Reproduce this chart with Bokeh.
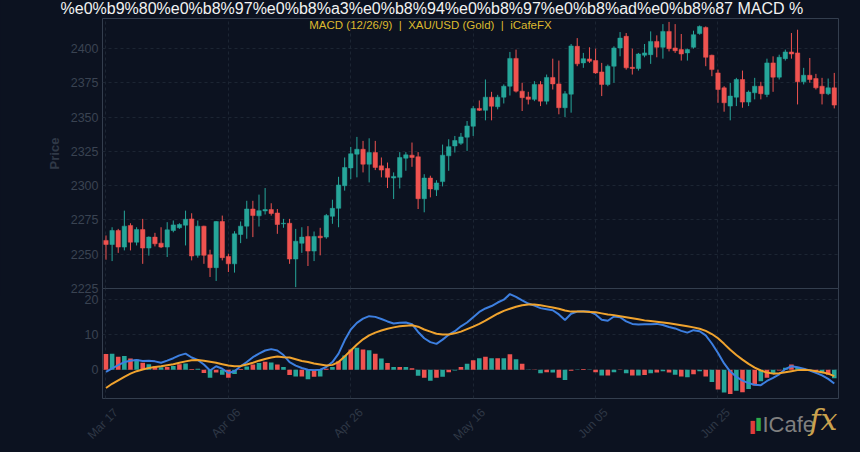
import math
import pandas as pd
from bokeh.plotting import figure
from bokeh.layouts import column
from bokeh.models import (ColumnDataSource, Label, FixedTicker, Range1d, DatetimeAxis)
from bokeh.embed import file_html
from bokeh.resources import INLINE

# ---------------- data ----------------
start_date = "2024-03-17"

open_ = [
    2260.1, 2257.1, 2267.3, 2255.2, 2271.0, 2258.8, 2268.0, 2254.5, 2262.5, 2258.1,
    2255.2, 2267.3, 2269.3, 2271.2, 2275.8, 2249.2, 2270.5, 2249.6, 2240.2, 2273.9,
    2248.4, 2243.0, 2264.4, 2270.5, 2283.0, 2278.0, 2281.6, 2282.6, 2280.1, 2272.2,
    2272.6, 2246.5, 2258.0, 2263.0, 2252.3, 2263.2, 2262.5, 2277.7, 2283.5, 2300.0,
    2313.0, 2323.0, 2326.6, 2315.7, 2324.2, 2314.5, 2312.6, 2305.6, 2306.1, 2320.1,
    2322.3, 2321.1, 2290.5, 2305.6, 2297.0, 2303.0, 2321.8, 2329.0, 2331.0, 2335.4,
    2343.4, 2356.4, 2355.0, 2364.6, 2357.6, 2364.6, 2372.6, 2392.9, 2369.0, 2364.8,
    2363.0, 2373.9, 2361.7, 2379.0, 2374.3, 2356.9, 2366.8, 2401.7, 2389.6, 2392.5,
    2391.3, 2383.0, 2373.9, 2387.2, 2400.5, 2409.0, 2386.4, 2385.5, 2395.2, 2395.6,
    2405.3, 2401.0, 2412.6, 2400.5, 2399.3, 2396.9, 2401.0, 2411.0, 2415.5, 2395.2,
    2382.3, 2371.4, 2358.1, 2364.6, 2377.5, 2361.0, 2367.8, 2372.6, 2366.6, 2389.6,
    2379.2, 2392.7, 2397.6, 2396.9, 2375.8, 2380.6, 2378.2, 2372.6, 2367.1, 2371.4,
]
close = [
    2257.1, 2267.3, 2255.2, 2270.5, 2258.8, 2268.0, 2254.5, 2262.5, 2257.6, 2255.2,
    2267.8, 2271.4, 2271.7, 2275.5, 2248.7, 2270.5, 2249.2, 2240.2, 2273.9, 2247.5,
    2243.0, 2264.9, 2270.5, 2283.0, 2278.2, 2281.8, 2282.6, 2279.7, 2271.7, 2272.6,
    2246.5, 2259.5, 2262.5, 2252.3, 2263.0, 2262.0, 2278.2, 2283.5, 2300.5, 2313.3,
    2323.3, 2326.6, 2315.7, 2324.2, 2313.3, 2311.4, 2306.1, 2306.8, 2320.6, 2322.5,
    2320.6, 2290.5, 2305.6, 2297.6, 2302.0, 2322.3, 2328.5, 2333.0, 2335.6, 2343.6,
    2356.4, 2355.0, 2364.6, 2358.0, 2364.6, 2372.6, 2392.9, 2369.0, 2364.2, 2363.0,
    2373.9, 2361.7, 2379.0, 2374.3, 2356.9, 2367.1, 2402.0, 2388.9, 2392.7, 2390.8,
    2382.3, 2373.9, 2387.2, 2400.5, 2407.7, 2386.0, 2385.5, 2396.1, 2396.9, 2405.3,
    2401.0, 2412.6, 2400.0, 2398.5, 2396.1, 2399.3, 2410.2, 2416.2, 2393.7, 2384.7,
    2370.2, 2360.5, 2365.4, 2377.5, 2361.0, 2368.3, 2372.6, 2367.1, 2389.6, 2379.2,
    2393.7, 2397.6, 2396.1, 2375.8, 2380.6, 2377.5, 2371.4, 2367.1, 2371.4, 2358.8,
]
high = [
    2263.7, 2269.7, 2268.5, 2281.8, 2272.6, 2269.7, 2275.8, 2263.0, 2265.6, 2269.7,
    2273.4, 2274.6, 2272.6, 2281.8, 2279.9, 2274.6, 2270.8, 2253.3, 2274.2, 2278.2,
    2250.4, 2266.8, 2273.9, 2289.0, 2289.0, 2293.5, 2298.3, 2287.2, 2283.0, 2275.8,
    2275.8, 2268.5, 2269.7, 2270.5, 2266.6, 2269.3, 2279.4, 2289.8, 2306.5, 2320.6,
    2328.3, 2335.6, 2332.7, 2334.6, 2332.7, 2320.6, 2316.9, 2309.7, 2324.5, 2324.5,
    2331.5, 2324.5, 2308.4, 2307.3, 2304.0, 2330.0, 2333.9, 2336.3, 2338.5, 2347.2,
    2358.1, 2362.2, 2377.5, 2368.5, 2366.3, 2373.9, 2397.6, 2399.3, 2375.1, 2368.5,
    2376.3, 2376.3, 2381.1, 2392.7, 2391.3, 2369.0, 2403.4, 2407.7, 2396.9, 2401.0,
    2400.0, 2389.6, 2388.4, 2401.7, 2412.1, 2411.4, 2400.0, 2396.9, 2403.4, 2412.6,
    2409.7, 2417.9, 2419.5, 2417.9, 2410.7, 2400.0, 2413.1, 2416.9, 2416.2, 2395.6,
    2384.7, 2372.6, 2375.1, 2378.7, 2384.0, 2369.5, 2378.7, 2375.8, 2392.7, 2394.4,
    2395.6, 2399.3, 2411.4, 2413.8, 2386.0, 2393.2, 2381.6, 2378.7, 2378.2, 2382.3,
]
low = [
    2246.0, 2245.0, 2251.0, 2252.8, 2252.8, 2256.4, 2243.0, 2249.0, 2255.7, 2254.5,
    2248.0, 2266.0, 2268.5, 2256.4, 2245.5, 2247.5, 2243.0, 2233.4, 2230.5, 2245.5,
    2237.0, 2236.6, 2258.1, 2261.3, 2262.5, 2270.2, 2279.0, 2278.2, 2264.9, 2269.3,
    2243.0, 2226.0, 2251.0, 2241.4, 2245.0, 2249.2, 2261.3, 2272.2, 2269.7, 2296.4,
    2304.8, 2306.1, 2309.7, 2302.4, 2311.4, 2306.1, 2298.3, 2290.3, 2298.0, 2310.9,
    2313.8, 2283.0, 2280.6, 2291.5, 2292.5, 2299.5, 2310.9, 2324.2, 2329.8, 2325.4,
    2336.3, 2354.5, 2347.7, 2347.7, 2355.7, 2360.0, 2365.8, 2368.0, 2354.5, 2359.3,
    2361.7, 2358.1, 2359.3, 2370.2, 2352.1, 2350.1, 2353.3, 2387.2, 2386.0, 2389.6,
    2381.6, 2365.4, 2372.6, 2375.1, 2394.4, 2384.7, 2381.1, 2384.0, 2393.7, 2388.9,
    2393.7, 2392.7, 2398.0, 2396.9, 2391.3, 2391.3, 2400.0, 2410.2, 2387.2, 2379.9,
    2360.5, 2354.0, 2347.7, 2358.1, 2356.9, 2358.1, 2363.0, 2363.0, 2364.6, 2368.5,
    2377.5, 2391.3, 2392.7, 2359.3, 2373.9, 2375.1, 2370.2, 2359.3, 2366.1, 2356.4,
]
macd = [
    -0.6, 0.4, 1.3, 2.2, 2.6, 2.8, 2.5, 2.6, 2.4, 2.0,
    2.6, 3.3, 4.1, 4.6, 3.5, 2.8, 1.5, -0.2, 1.0, 0.3,
    -0.9, -0.4, 1.0, 2.2, 3.6, 4.6, 5.5, 5.9, 5.5, 4.2,
    2.2, 1.2, 0.5, 0.0, -0.1, 0.0, 0.8, 2.2, 4.6, 8.4,
    11.5, 13.4, 14.6, 15.3, 15.1, 14.5, 13.8, 13.2, 13.4, 13.5,
    13.0, 10.8, 9.0, 7.9, 7.4, 8.6, 10.0, 11.0, 12.4, 13.5,
    15.0, 16.5, 17.5, 18.2, 19.2, 20.0, 21.6, 20.8, 19.8, 18.9,
    18.3, 17.6, 17.3, 17.0, 15.8, 14.2, 16.0, 16.6, 16.7, 16.6,
    15.8, 14.3, 14.0, 15.2, 15.0, 13.8, 13.1, 12.9, 13.0, 13.0,
    13.1, 12.8, 12.2, 11.8, 11.1, 10.6, 11.3, 11.0, 9.8, 7.5,
    4.8, 1.8, -0.5, -2.0, -3.1, -3.8, -4.3, -4.4, -3.2, -2.3,
    -1.3, 0.2, 1.0, 0.7, 0.3, -0.2, -0.9, -1.6, -2.6, -3.9,
]
signal = [
    -5.2, -4.0, -3.0, -2.0, -1.1, -0.4, 0.1, 0.5, 0.8, 1.0,
    1.3, 1.6, 2.0, 2.4, 2.7, 2.8, 2.6, 2.3, 2.0, 1.6,
    1.2, 1.0, 1.1, 1.5, 2.0, 2.6, 3.1, 3.5, 3.8, 3.6,
    3.5, 3.0, 2.5, 2.2, 1.8, 1.5, 1.2, 1.4, 2.2, 3.8,
    5.5, 7.2, 8.7, 9.8, 10.6, 11.2, 11.7, 12.1, 12.4, 12.6,
    12.7, 12.3, 11.5, 10.9, 10.3, 10.1, 10.1, 10.4, 10.9, 11.6,
    12.3, 13.1, 14.0, 15.0, 16.0, 16.8, 17.4, 18.0, 18.4, 18.6,
    18.6, 18.4, 18.1, 17.8, 17.4, 16.9, 16.6, 16.6, 16.6, 16.5,
    16.4, 16.1, 15.8, 15.6, 15.3, 15.0, 14.7, 14.4, 14.1, 13.9,
    13.7, 13.5, 13.3, 13.0, 12.7, 12.4, 12.1, 11.7, 11.1, 10.2,
    9.0, 7.4, 5.7, 4.2, 2.9, 1.7, 0.6, -0.2, -0.8, -1.1,
    -1.0, -0.7, -0.4, -0.1, 0.0, -0.1, -0.4, -0.7, -1.1, -1.8,
]
hist = [
    4.5, 4.6, 3.7, 3.9, 3.2, 2.9, 2.0, 1.6, 1.0, 0.7,
    0.8, 1.1, 1.6, 1.8, 0.2, 0.3, -0.9, -2.3, -0.8, -1.4,
    -2.3, -1.2, 0.2, 0.9, 1.5, 1.9, 2.3, 2.1, 1.5, 0.8,
    -1.5, -1.9, -1.9, -2.7, -2.0, -1.9, 0.3, 0.8, 2.4, 4.1,
    5.8, 6.3, 5.8, 5.6, 4.6, 3.2, 1.9, 0.8, 0.8, 0.8,
    0.4, -1.7, -2.3, -3.1, -2.3, -2.0, -0.7, -0.2, 0.8, 1.7,
    2.7, 3.3, 3.7, 3.3, 3.3, 3.3, 4.4, 3.0, 1.7, 0.1,
    -0.1, -1.0, -0.7, -0.8, -2.3, -2.9, -0.3, -0.1, 0.2, 0.1,
    -0.7, -1.6, -1.6, -0.7, 0.1, -1.0, -1.6, -1.6, -1.5, -1.0,
    -0.8, -0.4, -0.8, -1.4, -1.9, -2.1, -1.3, -0.4, -1.9, -3.5,
    -5.6, -6.5, -6.9, -6.0, -6.4, -5.5, -4.5, -3.3, -2.3, -1.2,
    -0.2, 0.6, 1.5, 0.8, 0.3, 0.1, -0.6, -1.0, -1.4, -2.4,
]
x_tick_dates = ["2024-03-17", "2024-04-06", "2024-04-26", "2024-05-16", "2024-06-05", "2024-06-25"]
x_tick_labels = ["Mar 17", "Apr 06", "Apr 26", "May 16", "Jun 05", "Jun 25"]
price_ticks = [2225, 2250, 2275, 2300, 2325, 2350, 2375, 2400]
macd_ticks = [0, 10, 20]

title_text = "%e0%b9%80%e0%b8%97%e0%b8%a3%e0%b8%94%e0%b8%97%e0%b8%ad%e0%b8%87 MACD %"
NB = "\u00a0"
subtitle_text = f"MACD (12/26/9){NB}{NB}|{NB}{NB}XAU/USD (Gold){NB}{NB}|{NB}{NB}iCafeFX"

# ---------------- styling ----------------
BG = "#0c1220"
UP = "#26a69a"
DOWN = "#ef5350"
GRID = "#1c2533"
OUTLINE = "#343e4e"
TICK_TXT = "#3a4352"
DAY_MS = 86400000
FONT = "Liberation Sans"
W = 860
LEFT, RIGHT = 102, 22
FRAME_W = W - LEFT - RIGHT
TITLE_STANDOFF = 3
TITLE_H = 18 + TITLE_STANDOFF   # height of the title band
OVER = 8                         # overlap between price and MACD canvases

dates = pd.date_range(start_date, periods=len(close), freq="D")
t0 = int(dates[0].value // 10**6)
tick_ms = [int(pd.Timestamp(d).value // 10**6) for d in x_tick_dates]
x_start = t0 - 0.57 * DAY_MS
x_end = t0 + 119.69 * DAY_MS
x_range = Range1d(start=x_start, end=x_end)
ms_per_px = (x_end - x_start) / FRAME_W
label_shift = 10 * ms_per_px   # right-anchored rotated labels -> centred on grid lines

base = dict(width=W, output_backend="svg", toolbar_location=None,
            background_fill_color=BG, border_fill_color=BG)
panel = dict(x_range=x_range, x_axis_type="datetime", x_axis_location=None,
             min_border_left=LEFT, min_border_right=RIGHT,
             outline_line_color=OUTLINE, outline_line_width=1, **base)

# price panel (title band above, small bottom band so the lowest tick label is whole)
p1 = figure(height=TITLE_H + 271 + OVER, y_range=Range1d(2225, 2422),
            min_border_top=TITLE_H, min_border_bottom=OVER,
            styles={"margin-top": f"-{TITLE_H - 17}px"}, **panel)
p1.title.text = title_text
p1.title.align = "left"
p1.title.offset = -42
p1.title.standoff = TITLE_STANDOFF
p1.title.text_font = FONT
p1.title.text_font_size = "16px"
p1.title.text_font_style = "normal"
p1.title.text_color = "#f2f2f2"

# MACD panel, pulled up so that the frames touch
p2 = figure(height=110 + 54, y_range=Range1d(-8.2, 23.2), min_border_top=0, min_border_bottom=54,
            styles={"margin-top": f"-{OVER}px"}, **panel)
p2.border_fill_alpha = 0
p2.extra_x_ranges = {"labels": Range1d(start=x_start - label_shift, end=x_end - label_shift)}

# logo strip, laid over the bottom band of the MACD panel
p3 = figure(height=54, x_range=Range1d(0, 1), y_range=Range1d(0, 1),
            x_axis_location=None, y_axis_location=None, min_border_left=LEFT, min_border_right=RIGHT,
            min_border_top=0, min_border_bottom=0, outline_line_color=None,
            styles={"margin-top": "-54px"}, **base)
p3.grid.visible = False
p3.background_fill_alpha = 0
p3.border_fill_alpha = 0

# candles
src = ColumnDataSource(dict(
    date=dates, open=open_, close=close, high=high, low=low,
    top=[max(o, c) for o, c in zip(open_, close)],
    bottom=[min(o, c) for o, c in zip(open_, close)],
    color=[UP if c >= o else DOWN for o, c in zip(open_, close)],
))
p1.segment(x0="date", y0="low", x1="date", y1="high", line_color="color", line_width=1, source=src)
p1.vbar(x="date", width=0.72 * DAY_MS, top="top", bottom="bottom",
        fill_color="color", line_color="color", line_width=0.5, source=src)

# MACD
hsrc = ColumnDataSource(dict(date=dates, hist=hist,
                             color=[DOWN if i % 2 == 0 else UP for i in range(len(hist))]))
p2.vbar(x="date", top="hist", bottom=0, width=0.75 * DAY_MS, fill_color="color",
        line_color=None, source=hsrc)
p2.line(dates, macd, line_color="#3d7fe0", line_width=2)
p2.line(dates, signal, line_color="#f0a32e", line_width=2)

for p, ticks in ((p1, price_ticks), (p2, macd_ticks)):
    ax = p.yaxis[0]
    ax.ticker = FixedTicker(ticks=ticks)
    ax.axis_line_color = None
    ax.major_tick_line_color = None
    ax.minor_tick_line_color = None
    ax.major_tick_out = 0
    ax.major_tick_in = 0
    ax.minor_tick_out = 0
    ax.minor_tick_in = 0
    ax.major_label_text_color = TICK_TXT
    ax.major_label_text_font = FONT
    ax.major_label_text_font_size = "12.5px"
    ax.major_label_standoff = 4
    p.xgrid.ticker = FixedTicker(ticks=tick_ms)
    p.grid.grid_line_color = GRID
    p.grid.grid_line_dash = "3 3"
    p.grid.grid_line_width = 1

p1.yaxis[0].axis_label = "Price"
p1.yaxis[0].axis_label_text_color = "#303947"
p1.yaxis[0].axis_label_text_font = FONT
p1.yaxis[0].axis_label_text_font_size = "13px"
p1.yaxis[0].axis_label_text_font_style = "bold"
p1.yaxis[0].axis_label_standoff = 6

p1.add_layout(Label(x=328, y=264, x_units="screen", y_units="screen", text=subtitle_text,
                    text_align="center", text_baseline="middle", text_font=FONT,
                    text_font_size="11.5px", text_color="#dcb92e"))

# rotated date labels
xaxis = DatetimeAxis(x_range_name="labels", ticker=FixedTicker(ticks=tick_ms),
                     major_label_overrides=dict(zip(tick_ms, x_tick_labels)),
                     major_label_orientation=math.pi / 4)
xaxis.axis_line_color = None
xaxis.major_tick_line_color = None
xaxis.minor_tick_line_color = None
xaxis.major_tick_out = 0
xaxis.major_tick_in = 0
xaxis.minor_tick_out = 0
xaxis.minor_tick_in = 0
xaxis.major_label_standoff = 12
xaxis.major_label_text_font = FONT
xaxis.major_label_text_font_size = "12px"
xaxis.major_label_text_color = "#2f3846"
p2.add_layout(xaxis, "below")

# iCafeFX logo (frame of p3 spans x 102..838 of the page)
def logo(x, y, text, **kw):
    p3.add_layout(Label(x=x - LEFT, y=y, x_units="screen", y_units="screen", text=text, **kw))

logo(750, 19, "\u258c", text_font="DejaVu Sans", text_font_size="11px", text_color="#e03c3c")
logo(756, 22, "\u258c", text_font="DejaVu Sans", text_font_size="11px", text_color="#2eaa4a")
logo(762, 16, "ICafe", text_font=FONT, text_font_size="22px", text_color="#7f7f7f")
logo(809, 16, "fx", text_font="DejaVu Serif", text_font_style="italic",
     text_font_size="30px", text_color="#caa24e")

layout = column(p1, p2, p3, spacing=0, styles={"background-color": BG})
open("out.html", "w").write(file_html(layout, INLINE, title="MACD"))
